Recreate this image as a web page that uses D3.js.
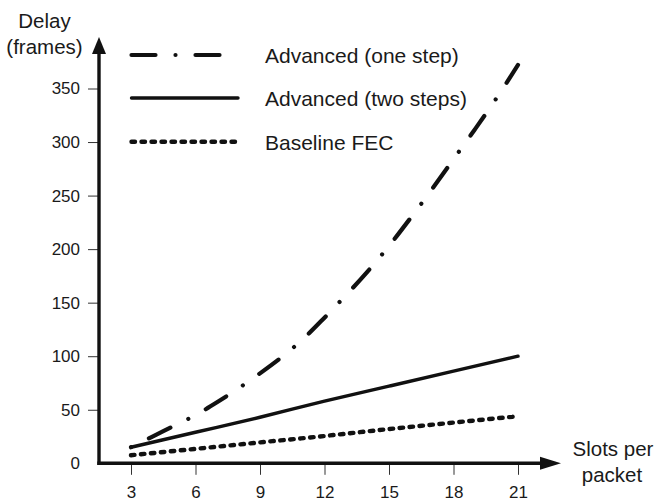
<!DOCTYPE html>
<html>
<head>
<meta charset="utf-8">
<script src="https://cdn.jsdelivr.net/npm/d3@7"></script>
<style>
  body { margin: 0; background: #fff; }
  svg text { font-family: 'Liberation Sans', Arial, Helvetica, sans-serif; fill: #1a1a1a; }
</style>
</head>
<body>
<script>
// slots per packet, one step curve is read at every slot
const slotsFine = [3, 4, 5, 6, 7, 8, 9, 10, 11, 12, 13, 14, 15, 16, 17, 18, 19, 20, 21];
const delayOneStep = [15, 25, 35, 45, 57, 70, 84, 99, 116, 136, 157, 179, 203, 229, 256, 284, 312, 341, 372];

// the two straight lines, read at the tick marks
const slots = [3, 6, 9, 12, 15, 18, 21];
const delayTwoSteps = [15, 29, 43, 58, 72, 86, 100];
const delayBaseline = [7.5, 13.5, 19.5, 25.5, 32, 38, 44];

const seriesNames = ['Advanced (one step)', 'Advanced (two steps)', 'Baseline FEC'];
const xTicks = [3, 6, 9, 12, 15, 18, 21];
const yTicks = [0, 50, 100, 150, 200, 250, 300, 350];

const width = 655;
const height = 503;

const svg = d3.select('body')
  .append('svg')
  .attr('width', width)
  .attr('height', height);

const x = d3.scaleLinear().domain([3, 21]).range([131, 518]);
const y = d3.scaleLinear().domain([0, 350]).range([463.3, 88.5]);

//line styles for the three series
const styles = [
  { width: 4.2, dash: '24 20 0.01 20', offset: 44 },
  { width: 3.4, dash: null, offset: 0 },
  { width: 4.4, dash: '3.5 6.5', offset: 0 }
];

//y axis ticks and labels
const yAxis = svg.append('g')
  .attr('transform', 'translate(99,0)')
  .call(d3.axisLeft(y).tickValues(yTicks).tickSize(11).tickPadding(8));
yAxis.select('.domain').remove();
yAxis.selectAll('.tick line').attr('stroke', '#333').attr('stroke-width', 1)
  .filter((d) => d === 0).remove();
yAxis.selectAll('.tick text').style('font-size', '17px');

//x axis ticks and labels
const xAxis = svg.append('g')
  .attr('transform', 'translate(0,463.3)')
  .call(d3.axisBottom(x).tickValues(xTicks).tickSize(11.5).tickPadding(11));
xAxis.select('.domain').remove();
xAxis.selectAll('.tick line').attr('stroke', '#333').attr('stroke-width', 1);
xAxis.selectAll('.tick text').style('font-size', '17px');

//thick axis lines with arrow heads
svg.append('line')
  .attr('x1', 99).attr('x2', 99)
  .attr('y1', 465).attr('y2', 52)
  .attr('stroke', '#111').attr('stroke-width', 3.4);
svg.append('path')
  .attr('d', 'M99,37 L106,54 L92,54 Z')
  .attr('fill', '#111');
svg.append('line')
  .attr('x1', 97.3).attr('x2', 542)
  .attr('y1', 463.3).attr('y2', 463.3)
  .attr('stroke', '#111').attr('stroke-width', 3.4);
svg.append('path')
  .attr('d', 'M561,463.3 L540,456.8 L540,469.8 Z')
  .attr('fill', '#111');

//axis titles
const yTitle = svg.append('text')
  .attr('text-anchor', 'middle')
  .style('font-size', '20.5px');
yTitle.append('tspan').attr('x', 44.5).attr('y', 28).text('Delay');
yTitle.append('tspan').attr('x', 44.5).attr('y', 54).text('(frames)');

const xTitle = svg.append('text')
  .attr('text-anchor', 'middle')
  .style('font-size', '20.5px');
xTitle.append('tspan').attr('x', 613).attr('y', 456).text('Slots per');
xTitle.append('tspan').attr('x', 612).attr('y', 482).text('packet');

//series lines
const line = d3.line()
  .x((d) => x(d[0]))
  .y((d) => y(d[1]))
  .curve(d3.curveMonotoneX);

const seriesData = [
  slotsFine.map((s, i) => [s, delayOneStep[i]]),
  slots.map((s, i) => [s, delayTwoSteps[i]]),
  slots.map((s, i) => [s, delayBaseline[i]])
];

svg.selectAll('.series')
  .data(seriesData)
  .enter()
  .append('path')
  .attr('class', 'series')
  .attr('d', line)
  .attr('fill', 'none')
  .attr('stroke', '#111')
  .attr('stroke-linecap', 'round')
  .attr('stroke-width', (d, i) => styles[i].width)
  .attr('stroke-dasharray', (d, i) => styles[i].dash)
  .attr('stroke-dashoffset', (d, i) => styles[i].offset);

//legend rows
const legendY = [55, 98, 141.7];
const legend = svg.selectAll('.legend')
  .data(seriesNames)
  .enter()
  .append('g')
  .attr('class', 'legend')
  .attr('transform', (d, i) => `translate(0,${legendY[i]})`);

legend.append('line')
  .attr('x1', 131.5)
  .attr('x2', (d, i) => [220, 238, 235][i])
  .attr('y1', 0).attr('y2', 0)
  .attr('stroke', '#111')
  .attr('stroke-linecap', 'round')
  .attr('stroke-width', (d, i) => styles[i].width)
  .attr('stroke-dasharray', (d, i) => styles[i].dash);

legend.append('text')
  .attr('x', 265)
  .attr('y', 8)
  .style('font-size', '21px')
  .text((d) => d);
</script>
</body>
</html>
